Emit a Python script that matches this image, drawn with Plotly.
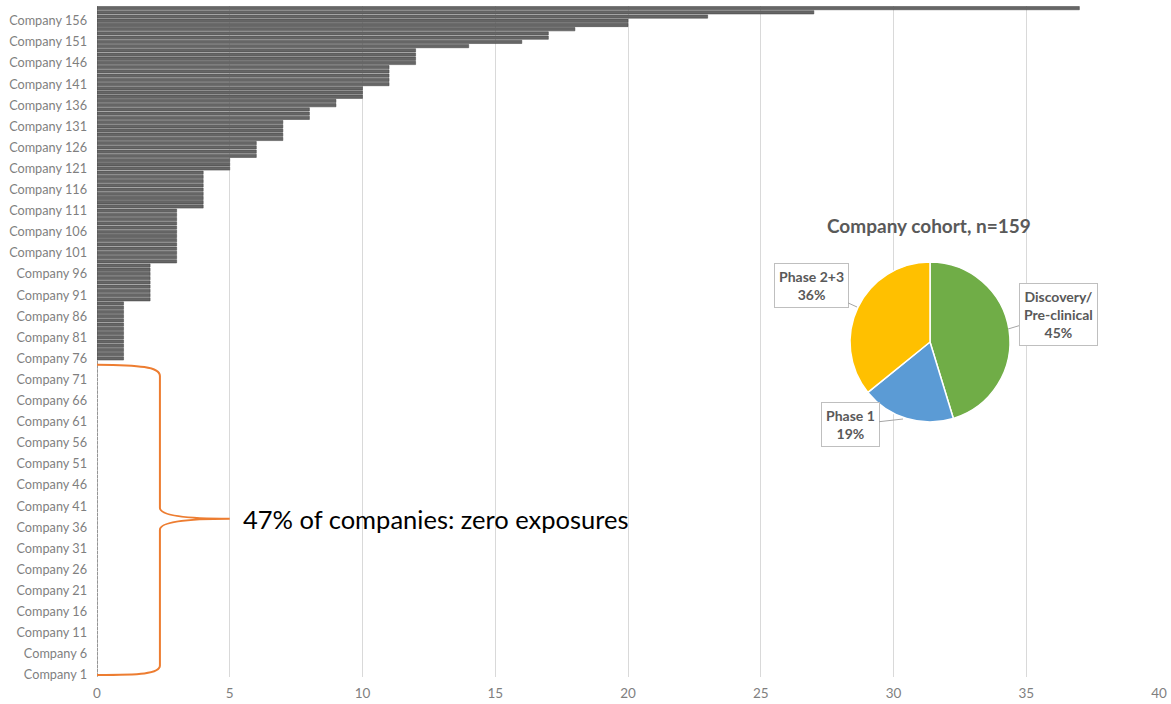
import plotly.graph_objects as go

# ---------------- data ----------------
companies = ["Company %d" % i for i in range(1, 160)]
exposures = [
    0, 0, 0, 0, 0, 0, 0, 0, 0, 0, 0, 0, 0, 0, 0,
    0, 0, 0, 0, 0, 0, 0, 0, 0, 0, 0, 0, 0, 0, 0,
    0, 0, 0, 0, 0, 0, 0, 0, 0, 0, 0, 0, 0, 0, 0,
    0, 0, 0, 0, 0, 0, 0, 0, 0, 0, 0, 0, 0, 0, 0,
    0, 0, 0, 0, 0, 0, 0, 0, 0, 0, 0, 0, 0, 0, 0,
    1, 1, 1, 1, 1, 1, 1, 1, 1, 1, 1, 1, 1, 1,
    2, 2, 2, 2, 2, 2, 2, 2, 2,
    3, 3, 3, 3, 3, 3, 3, 3, 3, 3, 3, 3, 3,
    4, 4, 4, 4, 4, 4, 4, 4, 4,
    5, 5, 5,
    6, 6, 6, 6,
    7, 7, 7, 7, 7,
    8, 8, 8,
    9, 9,
    10, 10, 10,
    11, 11, 11, 11, 11,
    12, 12, 12, 12,
    14, 16, 17, 17, 18, 20, 20, 23, 27, 37,
]
x_ticks = [0, 5, 10, 15, 20, 25, 30, 35, 40]

phase_labels = ["Discovery/<br>Pre-clinical", "Phase 1", "Phase 2+3"]
phase_counts = [72, 30, 57]
phase_colors = ["#70AD47", "#5B9BD5", "#FFC000"]
pie_title = "Company cohort, n=159"
brace_text = "47% of companies: zero exposures"

# ---------------- figure ----------------
positions = list(range(1, len(companies) + 1))
tick_pos = positions[::5]
tick_txt = companies[::5]

fig = go.Figure()
fig.add_trace(go.Bar(
    y=positions, x=exposures, orientation="h",
    marker=dict(color="#666666", line=dict(color="#3f3f3f", width=0.5)),
    showlegend=False, hoverinfo="x+text", text=companies, textposition="none",
))

W, H = 1171, 704
ml, mr, mt, mb = 97, 12, 6, 27
pw, ph = W - ml - mr, H - mt - mb


def px(xpix):
    return (xpix - ml) / pw


def py(ypix):
    return 1 - (ypix - mt) / ph


fig.add_trace(go.Pie(
    labels=[l.replace("<br>", "") for l in phase_labels], values=phase_counts,
    marker=dict(colors=phase_colors, line=dict(color="white", width=1.5)),
    sort=False, direction="clockwise", rotation=0,
    textinfo="none", showlegend=False,
    domain=dict(x=[px(850), px(1010)], y=[py(422), py(262)]),
))

total = sum(phase_counts)
pct = [round(100 * c / total) for c in phase_counts]

annotations = []
# pie title
annotations.append(dict(
    x=px(929), y=py(225), xref="paper", yref="paper", showarrow=False,
    text="<b>%s</b>" % pie_title, font=dict(family="Lato", size=19, color="#595959"),
    xanchor="center", yanchor="middle",
))
# callouts: (arrow tip pixel, box center pixel)
callouts = [((1008, 329), (1058, 314)), ((903, 419), (850, 425)), ((857, 307), (811, 286))]
for lab, p, (tip, box) in zip(phase_labels, pct, callouts):
    annotations.append(dict(
        x=px(tip[0]), y=py(tip[1]), xref="paper", yref="paper",
        ax=box[0] - tip[0], ay=box[1] - tip[1], showarrow=True,
        arrowhead=0, arrowwidth=1, arrowcolor="#a6a6a6",
        text="<b>%s<br>%d%%</b>" % (lab, p),
        font=dict(family="Lato", size=14, color="#595959"),
        bgcolor="white", bordercolor="#bfbfbf", borderwidth=1, borderpad=4,
        align="center",
    ))
# brace label
annotations.append(dict(
    x=5.42, y=38, xref="x", yref="y", showarrow=False, text=brace_text,
    font=dict(family="Lato", size=25.5, color="#000000"),
    xanchor="left", yanchor="middle",
))

brace_path = ("M 0,74.5 C 1.6,74.4 2.37,74.0 2.37,71.8 "
              "L 2.37,40.6 Q 2.37,38 5.0,38 Q 2.37,38 2.37,35.4 "
              "L 2.37,3.2 C 2.37,1.2 1.6,1.0 0,1.0")

fig.update_layout(
    width=W, height=H,
    margin=dict(l=ml, r=mr, t=mt, b=mb),
    plot_bgcolor="white", paper_bgcolor="white",
    bargap=0.22,
    font=dict(family="Lato", size=12.5, color="#7f7f7f"),
    xaxis=dict(range=[0, 40], tickvals=x_ticks, showgrid=True, gridcolor="#d9d9d9",
               gridwidth=1, zeroline=True, zerolinecolor="#d9d9d9", zerolinewidth=1,
               showline=False, ticks="", ticklabelstandoff=6, automargin=False,
               tickfont=dict(size=13.5, color="#7f7f7f")),
    yaxis=dict(range=[0.5, 159.5], tickvals=tick_pos, ticktext=tick_txt,
               showgrid=False, zeroline=False, showline=False, ticks="",
               ticklabelstandoff=9, automargin=False,
               tickfont=dict(size=12.7, color="#7f7f7f")),
    annotations=annotations,
    shapes=[dict(type="path", path=brace_path, xref="x", yref="y",
                 line=dict(color="#ED7D31", width=2))],
)

fig.write_html("out.html")
